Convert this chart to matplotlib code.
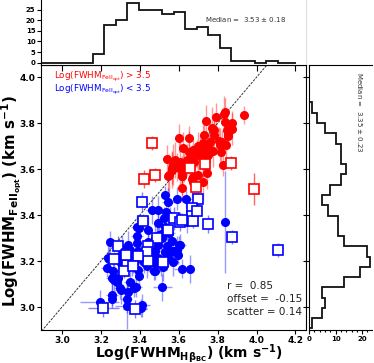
import matplotlib
matplotlib.use("Agg")
import matplotlib.pyplot as plt
from matplotlib.ticker import MultipleLocator

plt.rcParams['font.family'] = ['DejaVu Sans']
plt.rcParams['mathtext.fontset'] = 'dejavusans'

# ---------------- data ----------------
# red filled: Log(FWHM FeII) > 3.5
red_x = [3.937, 3.832, 3.791, 3.740, 3.874, 3.839, 3.769, 3.783, 3.872, 3.850,
         3.851, 3.731, 3.603, 3.654, 3.781, 3.759, 3.805, 3.821, 3.726, 3.623,
         3.709, 3.754, 3.675, 3.777, 3.816, 3.651, 3.692, 3.725, 3.736, 3.683,
         3.541, 3.581, 3.606, 3.641, 3.666, 3.726, 3.572, 3.628, 3.680, 3.829,
         3.567, 3.617, 3.589, 3.550, 3.618, 3.672, 3.699, 3.747, 3.723, 3.617,
         3.564, 3.546, 3.666, 3.838, 3.855, 3.843, 3.812, 3.752, 3.700, 3.735,
         3.718, 3.752, 3.675, 3.615]
red_y = [3.836, 3.839, 3.826, 3.810, 3.801, 3.806, 3.781, 3.770, 3.774, 3.770,
         3.748, 3.748, 3.736, 3.736, 3.748, 3.720, 3.724, 3.719, 3.714, 3.693,
         3.687, 3.687, 3.683, 3.678, 3.675, 3.674, 3.667, 3.667, 3.655, 3.655,
         3.645, 3.640, 3.633, 3.640, 3.647, 3.645, 3.619, 3.616, 3.629, 3.620,
         3.597, 3.588, 3.609, 3.575, 3.568, 3.567, 3.575, 3.585, 3.546, 3.519,
         3.606, 3.571, 3.556, 3.848, 3.745, 3.707, 3.707, 3.704, 3.700, 3.683,
         3.655, 3.662, 3.543, 3.571]
red_xerr = [0.010, 0.012, 0.010, 0.015, 0.010, 0.012, 0.010, 0.015, 0.012, 0.010,
            0.012, 0.010, 0.015, 0.010, 0.012, 0.010, 0.012, 0.010, 0.015, 0.010,
            0.012, 0.010, 0.015, 0.010, 0.012, 0.010, 0.015, 0.010, 0.012, 0.010,
            0.015, 0.012, 0.010, 0.012, 0.010, 0.015, 0.012, 0.010, 0.012, 0.010,
            0.015, 0.010, 0.012, 0.010, 0.015, 0.010, 0.012, 0.010, 0.012, 0.010,
            0.012, 0.015, 0.010, 0.010, 0.012, 0.010, 0.012, 0.010, 0.012, 0.010,
            0.012, 0.010, 0.012, 0.010]
red_yerr = [0.040, 0.080, 0.060, 0.070, 0.050, 0.060, 0.090, 0.050, 0.070, 0.060,
            0.050, 0.080, 0.060, 0.050, 0.070, 0.090, 0.060, 0.050, 0.080, 0.070,
            0.060, 0.080, 0.050, 0.070, 0.060, 0.090, 0.060, 0.070, 0.080, 0.050,
            0.060, 0.080, 0.100, 0.070, 0.060, 0.080, 0.090, 0.070, 0.060, 0.050,
            0.080, 0.070, 0.060, 0.090, 0.080, 0.070, 0.060, 0.070, 0.080, 0.060,
            0.070, 0.060, 0.080, 0.060, 0.050, 0.060, 0.070, 0.050, 0.060, 0.070,
            0.050, 0.060, 0.070, 0.060]

# red open squares
reds_x = [3.461, 3.421, 3.478, 3.656, 3.733, 3.870, 3.688, 3.988]
reds_y = [3.712, 3.557, 3.575, 3.605, 3.622, 3.628, 3.524, 3.513]
reds_xerr = [0.010, 0.010, 0.010, 0.010, 0.012, 0.010, 0.010, 0.010]
reds_yerr = [0.030, 0.040, 0.030, 0.050, 0.040, 0.030, 0.050, 0.070]

# blue filled: Log(FWHM FeII) < 3.5
blue_x = [3.529, 3.543, 3.590, 3.636, 3.533, 3.526, 3.555, 3.492, 3.492, 3.396,
          3.443, 3.529, 3.521, 3.550, 3.500, 3.384, 3.477, 3.512, 3.564, 3.338,
          3.384, 3.495, 3.538, 3.606, 3.349, 3.307, 3.389, 3.478, 3.529, 3.572,
          3.595, 3.298, 3.492, 3.546, 3.238, 3.375, 3.469, 3.572, 3.242, 3.303,
          3.358, 3.423, 3.483, 3.509, 3.538, 3.264, 3.289, 3.389, 3.396, 3.349,
          3.435, 3.478, 3.521, 3.615, 3.255, 3.281, 3.302, 3.341, 3.379, 3.516,
          3.258, 3.255, 3.195, 3.332, 3.332, 3.413, 3.406, 3.838, 3.641, 3.601,
          3.589, 3.247, 3.230, 3.269, 3.298, 3.370, 3.461, 3.462, 3.474, 3.658,
          3.384, 3.443]
blue_y = [3.488, 3.459, 3.471, 3.471, 3.413, 3.387, 3.394, 3.423, 3.365, 3.343,
          3.336, 3.350, 3.322, 3.322, 3.314, 3.307, 3.300, 3.300, 3.288, 3.271,
          3.278, 3.271, 3.264, 3.268, 3.249, 3.253, 3.245, 3.245, 3.239, 3.242,
          3.227, 3.224, 3.213, 3.216, 3.213, 3.201, 3.196, 3.196, 3.210, 3.191,
          3.196, 3.196, 3.191, 3.196, 3.213, 3.155, 3.126, 3.162, 3.133, 3.111,
          3.177, 3.158, 3.172, 3.167, 3.126, 3.111, 3.072, 3.065, 3.085, 3.085,
          3.053, 3.036, 3.022, 3.035, 3.003, 3.007, 2.996, 3.370, 3.372, 3.271,
          3.249, 3.281, 3.170, 3.119, 3.083, 3.083, 3.423, 3.209, 3.158, 3.165,
          3.350, 3.281]
blue_xerr = [0.020, 0.030, 0.020, 0.030, 0.020, 0.030, 0.020, 0.030, 0.020, 0.030,
             0.020, 0.030, 0.020, 0.030, 0.020, 0.030, 0.020, 0.030, 0.020, 0.030,
             0.020, 0.030, 0.020, 0.030, 0.020, 0.030, 0.020, 0.030, 0.020, 0.030,
             0.020, 0.030, 0.020, 0.030, 0.040, 0.030, 0.020, 0.030, 0.020, 0.030,
             0.020, 0.030, 0.020, 0.030, 0.020, 0.030, 0.020, 0.030, 0.020, 0.030,
             0.020, 0.030, 0.020, 0.040, 0.030, 0.020, 0.030, 0.040, 0.030, 0.050,
             0.030, 0.020, 0.100, 0.030, 0.060, 0.040, 0.030, 0.020, 0.030, 0.020,
             0.030, 0.020, 0.030, 0.020, 0.030, 0.020, 0.030, 0.020, 0.030, 0.020,
             0.030, 0.020]
blue_yerr = [0.040, 0.060, 0.050, 0.040, 0.060, 0.050, 0.040, 0.060, 0.050, 0.040,
             0.060, 0.050, 0.040, 0.060, 0.050, 0.040, 0.060, 0.050, 0.040, 0.060,
             0.050, 0.040, 0.060, 0.050, 0.040, 0.060, 0.050, 0.040, 0.060, 0.050,
             0.040, 0.060, 0.050, 0.040, 0.060, 0.050, 0.040, 0.060, 0.050, 0.040,
             0.060, 0.050, 0.040, 0.060, 0.050, 0.040, 0.060, 0.050, 0.040, 0.060,
             0.050, 0.040, 0.060, 0.040, 0.050, 0.040, 0.060, 0.050, 0.040, 0.060,
             0.050, 0.040, 0.050, 0.060, 0.100, 0.050, 0.040, 0.220, 0.050, 0.040,
             0.060, 0.050, 0.040, 0.060, 0.050, 0.040, 0.060, 0.050, 0.040, 0.060,
             0.050, 0.040]

# blue open squares
blues_x = [3.410, 3.701, 3.666, 3.576, 3.666, 3.675, 3.749, 3.418, 3.606, 3.487,
           3.286, 3.443, 3.401, 3.332, 3.435, 3.269, 3.341, 3.443, 3.521, 3.332,
           3.392, 3.320, 3.212, 3.375, 3.694, 3.872, 4.108, 3.329, 3.363, 3.546,
           3.615]
blues_y = [3.459, 3.471, 3.430, 3.387, 3.394, 3.375, 3.361, 3.375, 3.372, 3.300,
           3.267, 3.264, 3.221, 3.230, 3.239, 3.210, 3.191, 3.201, 3.196, 3.184,
           3.220, 3.155, 2.996, 2.991, 3.419, 3.303, 3.249, 3.227, 3.177, 3.333,
           3.380]
blues_xerr = [0.020, 0.020, 0.020, 0.030, 0.020, 0.020, 0.020, 0.020, 0.020, 0.030,
              0.020, 0.030, 0.020, 0.020, 0.030, 0.020, 0.020, 0.030, 0.020, 0.020,
              0.020, 0.020, 0.080, 0.060, 0.020, 0.020, 0.020, 0.020, 0.020, 0.020,
              0.020]
blues_yerr = [0.040, 0.040, 0.030, 0.050, 0.040, 0.030, 0.040, 0.030, 0.040, 0.050,
              0.040, 0.030, 0.040, 0.030, 0.040, 0.030, 0.040, 0.030, 0.040, 0.030,
              0.040, 0.030, 0.040, 0.040, 0.040, 0.030, 0.030, 0.040, 0.030, 0.040,
              0.030]

# top histogram (Hbeta)
hb_edges = [2.892, 3.158, 3.217, 3.277, 3.336, 3.396, 3.455, 3.514, 3.574, 3.633,
            3.693, 3.752, 3.811, 3.871, 3.930, 3.990, 4.049, 4.108, 4.202]
hb_counts = [0, 4, 18, 20, 28, 25, 25, 23, 24, 16, 17, 13, 7, 1, 1, 0, 1, 0]

# right histogram (FeII)
fe_edges = [2.907, 2.951, 2.996, 3.041, 3.085, 3.130, 3.175, 3.219, 3.264, 3.309,
            3.353, 3.398, 3.443, 3.487, 3.532, 3.577, 3.621, 3.666, 3.711, 3.756,
            3.800, 3.845, 3.890, 4.060]
fe_counts = [1, 5, 6, 5, 13, 19, 23, 22, 13, 11, 11, 7, 5, 8, 12, 14, 12, 12, 10, 6,
             3, 1, 0]

xlim = (2.892, 4.254)
ylim = (2.900, 4.053)

# ---------------- figure ----------------
W, H = 374, 363
fig = plt.figure(figsize=(W / 100, H / 100), dpi=100)

def fr(l, t, r, b):
    return [l / W, 1 - b / H, (r - l) / W, (b - t) / H]

ax = fig.add_axes(fr(41, 65, 306, 330))
axt = fig.add_axes(fr(41, 0, 306, 65))
axr = fig.add_axes(fr(309, 65, 372, 330))

RED = '#ff0000'
BLUE = '#0000ff'

ax.errorbar(red_x, red_y, xerr=red_xerr, yerr=red_yerr, fmt='none',
            ecolor=RED, alpha=0.4, elinewidth=1.0, zorder=1)
ax.errorbar(reds_x, reds_y, xerr=reds_xerr, yerr=reds_yerr, fmt='none',
            ecolor=RED, alpha=0.6, elinewidth=1.0, zorder=1)
ax.errorbar(blue_x, blue_y, xerr=blue_xerr, yerr=blue_yerr, fmt='none',
            ecolor=BLUE, alpha=0.4, elinewidth=1.0, zorder=1)
ax.errorbar(blues_x, blues_y, xerr=blues_xerr, yerr=blues_yerr, fmt='none',
            ecolor=BLUE, alpha=0.5, elinewidth=1.0, zorder=1)

ax.plot(red_x, red_y, 'o', color=RED, ms=5.5, mec=RED, zorder=3)
ax.plot(blue_x, blue_y, 'o', color=BLUE, ms=5.5, mec=BLUE, zorder=3)
ax.plot(reds_x, reds_y, 's', mfc='white', mec=RED, ms=6.5, mew=1.2, zorder=4)
ax.plot(blues_x, blues_y, 's', mfc='white', mec=BLUE, ms=6.5, mew=1.2, zorder=4)

ax.plot([2.8, 4.3], [2.8, 4.3], '--', color='#333333', lw=0.7, dashes=(2.5, 1.2), zorder=2)

ax.set_xlim(*xlim)
ax.set_ylim(*ylim)
ax.set_xticks([3.0, 3.2, 3.4, 3.6, 3.8, 4.0, 4.2])
ax.set_yticks([3.0, 3.2, 3.4, 3.6, 3.8, 4.0])
ax.set_xticklabels(['3.0', '3.2', '3.4', '3.6', '3.8', '4.0', '4.2'])
ax.set_yticklabels(['3.0', '3.2', '3.4', '3.6', '3.8', '4.0'])
ax.tick_params(axis='both', labelsize=6.5, length=3, width=0.8, pad=1)
for lab in ax.get_xticklabels() + ax.get_yticklabels():
    lab.set_fontweight('bold')

ax.set_xlabel(r'Log(FWHM$_{\mathbf{H\beta_{BC}}}$) (km s$^{\mathbf{-1}}$)',
              fontsize=10, fontweight='bold')
ax.set_ylabel(r'Log(FWHM$_{\mathbf{FeII_{opt}}}$) (km s$^{\mathbf{-1}}$)',
              fontsize=10.8, fontweight='bold')
ax.xaxis.set_label_coords(0.557, -0.045)
ax.yaxis.set_label_coords(-0.068, 0.487)

ax.text(0.05, 0.955, r'Log(FWHM$_{\rm FeII_{opt}}$) > 3.5', color=RED,
        fontsize=6.3, transform=ax.transAxes, va='center')
ax.text(0.05, 0.905, r'Log(FWHM$_{\rm FeII_{opt}}$) < 3.5', color=BLUE,
        fontsize=6.3, transform=ax.transAxes, va='center')

ax.text(0.703, 0.165, 'r =  0.85', fontsize=7.5, color='#222222', transform=ax.transAxes, va='center')
ax.text(0.703, 0.117, 'offset =  -0.15', fontsize=7.5, color='#222222', transform=ax.transAxes, va='center')
ax.text(0.703, 0.068, 'scatter = 0.14', fontsize=7.5, color='#222222', transform=ax.transAxes, va='center')

# top histogram
axt.stairs(hb_counts, hb_edges, color='#111111', lw=1.3)
axt.set_xlim(*xlim)
axt.set_ylim(-1.1, 29.6)
axt.set_yticks([0, 5, 10, 15, 20, 25])
axt.set_xticks([3.0, 3.2, 3.4, 3.6, 3.8, 4.0, 4.2])
axt.tick_params(axis='x', labelbottom=False, length=4, width=0.8)
axt.tick_params(axis='y', labelsize=5, length=3, width=0.8, pad=1)
for lab in axt.get_yticklabels():
    lab.set_fontweight('bold')
axt.spines['top'].set_visible(False)
axt.spines['right'].set_color('#dddddd')
axt.text(0.77, 0.7, r'Median =  3.53 $\pm$ 0.18', fontsize=5, color='#333333',
         transform=axt.transAxes, ha='center', va='center')

# right histogram
axr.stairs(fe_counts, fe_edges, orientation='horizontal', color='#111111', lw=1.3)
axr.set_ylim(*ylim)
axr.set_xlim(0, 23.7)
axr.set_yticks([3.0, 3.2, 3.4, 3.6, 3.8, 4.0])
axr.set_xticks([0, 10, 20])
axr.xaxis.set_minor_locator(MultipleLocator(2))
axr.tick_params(axis='y', labelleft=False, length=4, width=0.8)
axr.tick_params(axis='x', which='major', labelsize=5, length=3, width=0.8, pad=1)
axr.tick_params(axis='x', which='minor', length=1.5, width=0.8)
for lab in axr.get_xticklabels():
    lab.set_fontweight('bold')
axr.spines['right'].set_visible(False)
axr.text(0.8, 0.82, r'Median =  3.35 $\pm$ 0.23', fontsize=5, color='#333333',
         transform=axr.transAxes, ha='center', va='center', rotation=270)

fig.savefig('out.png', dpi=100)
